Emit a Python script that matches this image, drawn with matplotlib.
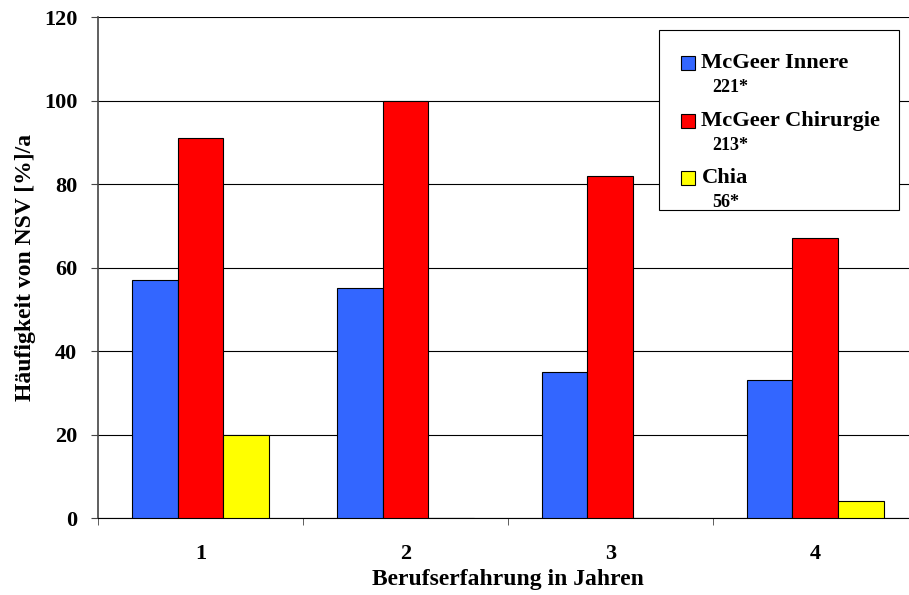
import numpy as np
import matplotlib.pyplot as plt
from matplotlib.patches import Rectangle

# DATA
jahre = ['1', '2', '3', '4']
innere = [57, 55, 35, 33]
chirurgie = [91, 100, 82, 67]
chia = [20, 0, 0, 4]
namen = ['McGeer Innere', 'McGeer Chirurgie', 'Chia']
anzahl = ['221*', '213*', '56*']
farben = ['#3366FF', '#FF0000', '#FFFF00']

plt.rcParams['font.family'] = ['Liberation Serif', 'DejaVu Serif']
plt.rcParams['font.weight'] = 'bold'

fig = plt.figure(figsize=(9.09, 5.95), dpi=100)
ax = fig.add_axes([0.1078, 0.1294, 0.902, 0.8420])

x = np.arange(1, len(jahre) + 1)
w = 0.224
for i, werte in enumerate([innere, chirurgie, chia]):
    ax.bar(x + (i - 1) * w, werte, w, color=farben[i], edgecolor='black', linewidth=0.8, zorder=3)

ax.set_xlim(0.5, 4.5)
ax.set_ylim(0, 120)
ax.set_yticks(range(0, 121, 20))
ax.yaxis.grid(True, color='black', linewidth=0.8, zorder=0)
ax.set_xticks(x)
ax.set_xticklabels(jahre)
ax.set_xticks(np.arange(0.5, 4.6, 1), minor=True)
ax.tick_params(axis='x', which='major', length=0, pad=19, labelsize=16)
ax.tick_params(axis='x', which='minor', length=5, color='#444444', direction='out')
ax.tick_params(axis='y', length=5, pad=10, labelsize=16, color='#444444')
for s in ['top', 'right']:
    ax.spines[s].set_visible(False)
ax.spines['left'].set_color('#444444')
ax.spines['left'].set_linewidth(1.2)
ax.spines['bottom'].set_color('black')

ax.set_xlabel('Berufserfahrung in Jahren', fontsize=17, fontweight='bold')
ax.xaxis.set_label_coords(0.5, -0.101)
ax.set_ylabel('Häufigkeit von NSV [%]/a', fontsize=17, fontweight='bold')
ax.yaxis.set_label_coords(-0.076, 0.5)

# legend box
ax.add_patch(Rectangle((0.684, 0.615), 0.293, 0.359, transform=ax.transAxes,
                       facecolor='white', edgecolor='black', linewidth=0.8, zorder=5))
ys = [0.908, 0.792, 0.678]
for i in range(3):
    ax.add_patch(Rectangle((0.711, ys[i] - 0.014), 0.017, 0.028, transform=ax.transAxes,
                           facecolor=farben[i], edgecolor='black', linewidth=0.8, zorder=6))
    ax.text(0.736, ys[i], namen[i], transform=ax.transAxes, fontsize=16.2, fontweight='bold',
            va='center', ha='left', zorder=6)
    ax.text(0.749, ys[i] - 0.048, anzahl[i], transform=ax.transAxes, fontsize=13, fontweight='bold',
            va='center', ha='left', zorder=6)

fig.savefig('out.png', dpi=100)
